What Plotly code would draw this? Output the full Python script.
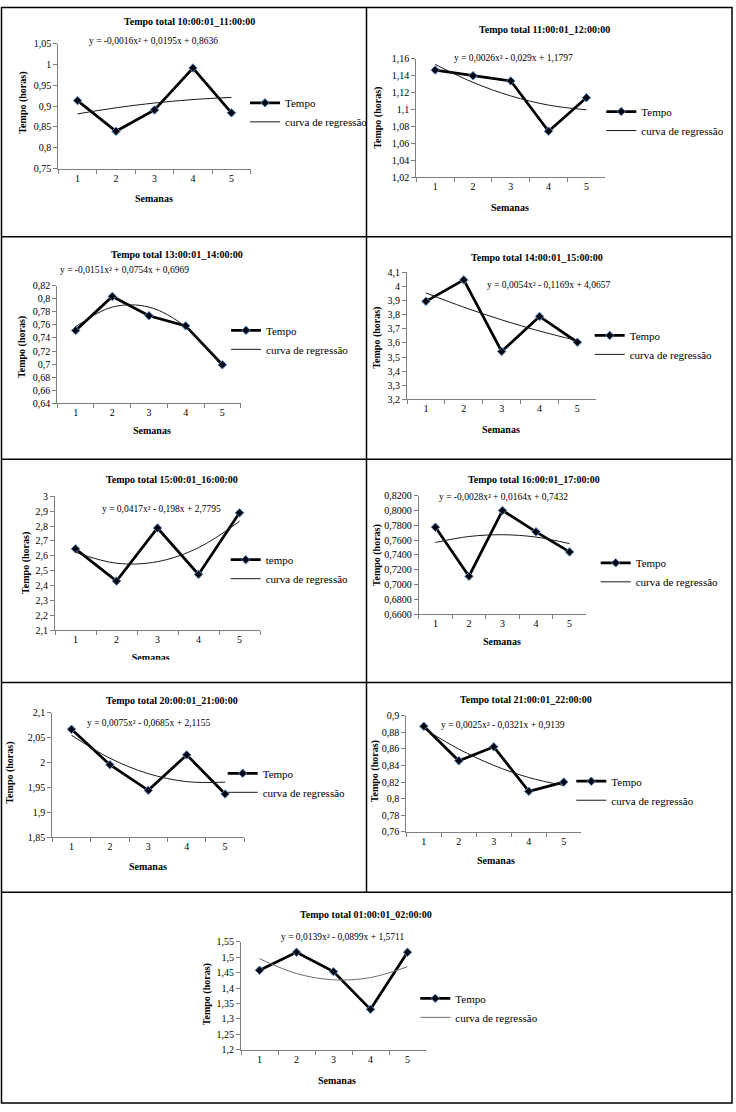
import plotly.graph_objects as go

W, H = 736, 1112


def X(px):
    return px / W


def Y(py):
    return 1 - py / H


# ---------------- data ----------------
weeks = ["1", "2", "3", "4", "5"]

titles = [
    "Tempo total 10:00:01_11:00:00",
    "Tempo total 11:00:01_12:00:00",
    "Tempo total 13:00:01_14:00:00",
    "Tempo total 14:00:01_15:00:00",
    "Tempo total 15:00:01_16:00:00",
    "Tempo total 16:00:01_17:00:00",
    "Tempo total 20:00:01_21:00:00",
    "Tempo total 21:00:01_22:00:00",
    "Tempo total 01:00:01_02:00:00",
]

equations = [
    "y = -0,0016x² + 0,0195x + 0,8636",
    "y = 0,0026x² - 0,029x + 1,1797",
    "y = -0,0151x² + 0,0754x + 0,6969",
    "y = 0,0054x² - 0,1169x + 4,0657",
    "y = 0,0417x² - 0,198x + 2,7795",
    "y = -0,0028x² + 0,0164x + 0,7432",
    "y = 0,0075x² - 0,0685x + 2,1155",
    "y = 0,0025x² - 0,0321x + 0,9139",
    "y = 0,0139x² - 0,0899x + 1,5711",
]

series_names = ["Tempo", "Tempo", "Tempo", "Tempo", "tempo", "Tempo", "Tempo", "Tempo", "Tempo"]
trend_name = "curva de regressão"

tempo_10_11 = [0.9135, 0.8397, 0.8910, 0.9920, 0.8840]
curva_10_11 = [0.8815, 0.8962, 0.9077, 0.9160, 0.9211]
tempo_11_12 = [1.1466, 1.1400, 1.1338, 1.0745, 1.1140]
curva_11_12 = [1.1533, 1.1321, 1.1161, 1.1053, 1.0997]
tempo_13_14 = [0.7514, 0.8035, 0.7740, 0.7585, 0.6990]
curva_13_14 = [0.7572, 0.7873, 0.7872, 0.7569, 0.6964]
tempo_14_15 = [3.895, 4.047, 3.540, 3.788, 3.605]
curva_14_15 = [3.9542, 3.8535, 3.7636, 3.6845, 3.6162]
tempo_15_16 = [2.647, 2.430, 2.787, 2.475, 2.889]
curva_15_16 = [2.6232, 2.5503, 2.5608, 2.6547, 2.8320]
tempo_16_17 = [0.7773, 0.7111, 0.8000, 0.7711, 0.7440]
curva_16_17 = [0.7568, 0.7648, 0.7672, 0.7640, 0.7552]
tempo_20_21 = [2.0665, 1.9954, 1.9440, 2.0152, 1.9368]
curva_20_21 = [2.0545, 2.0085, 1.9775, 1.9615, 1.9605]
tempo_21_22 = [0.8871, 0.8456, 0.8624, 0.8089, 0.8200]
curva_21_22 = [0.8843, 0.8597, 0.8401, 0.8255, 0.8159]
tempo_01_02 = [1.4575, 1.5160, 1.4532, 1.3307, 1.5160]
curva_01_02 = [1.4951, 1.4469, 1.4265, 1.4339, 1.4691]

tempo_all = [tempo_10_11, tempo_11_12, tempo_13_14, tempo_14_15, tempo_15_16,
             tempo_16_17, tempo_20_21, tempo_21_22, tempo_01_02]
curva_all = [curva_10_11, curva_11_12, curva_13_14, curva_14_15, curva_15_16,
             curva_16_17, curva_20_21, curva_21_22, curva_01_02]

ytick_vals = [
    [0.75, 0.8, 0.85, 0.9, 0.95, 1.0, 1.05],
    [1.02, 1.04, 1.06, 1.08, 1.1, 1.12, 1.14, 1.16],
    [0.64, 0.66, 0.68, 0.7, 0.72, 0.74, 0.76, 0.78, 0.8, 0.82],
    [3.2, 3.3, 3.4, 3.5, 3.6, 3.7, 3.8, 3.9, 4.0, 4.1],
    [2.1, 2.2, 2.3, 2.4, 2.5, 2.6, 2.7, 2.8, 2.9, 3.0],
    [0.66, 0.68, 0.70, 0.72, 0.74, 0.76, 0.78, 0.80, 0.82],
    [1.85, 1.9, 1.95, 2.0, 2.05, 2.1],
    [0.76, 0.78, 0.8, 0.82, 0.84, 0.86, 0.88, 0.9],
    [1.2, 1.25, 1.3, 1.35, 1.4, 1.45, 1.5, 1.55],
]
ytick_text = [
    ["0,75", "0,8", "0,85", "0,9", "0,95", "1", "1,05"],
    ["1,02", "1,04", "1,06", "1,08", "1,1", "1,12", "1,14", "1,16"],
    ["0,64", "0,66", "0,68", "0,7", "0,72", "0,74", "0,76", "0,78", "0,8", "0,82"],
    ["3,2", "3,3", "3,4", "3,5", "3,6", "3,7", "3,8", "3,9", "4", "4,1"],
    ["2,1", "2,2", "2,3", "2,4", "2,5", "2,6", "2,7", "2,8", "2,9", "3"],
    ["0,6600", "0,6800", "0,7000", "0,7200", "0,7400", "0,7600", "0,7800", "0,8000", "0,8200"],
    ["1,85", "1,9", "1,95", "2", "2,05", "2,1"],
    ["0,76", "0,78", "0,8", "0,82", "0,84", "0,86", "0,88", "0,9"],
    ["1,2", "1,25", "1,3", "1,35", "1,4", "1,45", "1,5", "1,55"],
]

# ---------------- layout geometry (pixels) ----------------
geom = [
    dict(x0=58.3, x1=250.7, yt=38.3, yb=164.3, title=(189, 16), eq=(153, 35), ytl=(22.7, 98),
         xtl=(154, 195), leg=(285, 107.5)),
    dict(x0=416.3, x1=605.3, yt=53.3, yb=173.3, title=(544.3, 24), eq=(513.5, 52.3), ytl=(378, 113),
         xtl=(510.3, 204), leg=(641.3, 116.3)),
    dict(x0=57.3, x1=240.7, yt=282.7, yb=401.7, title=(176.7, 251.7), eq=(124.8, 267.3), ytl=(22.7, 345),
         xtl=(152, 429), leg=(266, 337.5)),
    dict(x0=407, x1=596.3, yt=269.3, yb=397.7, title=(537.3, 254), eq=(549, 281.7), ytl=(377.3, 335),
         xtl=(501.3, 427.7), leg=(629.7, 342.6)),
    dict(x0=55, x1=260, yt=495.7, yb=631, title=(172, 479), eq=(161.2, 508.3), ytl=(26.7, 563.3),
         xtl=None, leg=(265.7, 569.3)),
    dict(x0=418.7, x1=586.3, yt=495, yb=614.7, title=(534.2, 478.3), eq=(503, 496.7), ytl=(377.3, 555),
         xtl=(502.3, 642.7), leg=(635.7, 572.5)),
    dict(x0=52.3, x1=244.3, yt=714.3, yb=840.3, title=(171.7, 702.3), eq=(148.8, 725), ytl=(10, 775),
         xtl=(148.3, 870), leg=(262.7, 785.3)),
    dict(x0=406.3, x1=581.3, yt=717.3, yb=835, title=(525.5, 700.7), eq=(502.5, 726.7), ytl=(375.3, 773.3),
         xtl=(495.7, 864), leg=(611.3, 793.3)),
    dict(x0=241, x1=426, yt=946, yb=1055, title=(366.2, 918.3), eq=(342.8, 941), ytl=(206.7, 999.3),
         xtl=(336.7, 1086), leg=(455.3, 1012.8)),
]

SERIF = "Liberation Serif"
AXCOL = "#7f7f7f"

fig = go.Figure()
layout = dict(
    width=W, height=H, autosize=False,
    margin=dict(l=0, r=0, t=0, b=0),
    paper_bgcolor="white", plot_bgcolor="white",
    font=dict(family=SERIF, size=10, color="black"),
    annotations=[], shapes=[],
)

for i in range(9):
    g = geom[i]
    s = "" if i == 0 else str(i + 1)
    trend_color = "#6e6e6e" if i == 8 else "#1a1a1a"
    fig.add_trace(go.Scatter(
        x=weeks, y=tempo_all[i], mode="lines+markers", name=series_names[i],
        xaxis="x" + s, yaxis="y" + s, legend="legend" + s,
        line=dict(color="black", width=2.75),
        marker=dict(symbol="diamond", size=6.5, color="#05050f",
                    line=dict(color="#4f81bd", width=1)),
        hoverinfo="skip",
    ))
    fig.add_trace(go.Scatter(
        x=weeks, y=curva_all[i], mode="lines", name=trend_name,
        xaxis="x" + s, yaxis="y" + s, legend="legend" + s,
        line=dict(color=trend_color, width=1, shape="spline"),
        hoverinfo="skip",
    ))
    layout["xaxis" + s] = dict(
        domain=[X(g["x0"]), X(g["x1"])], anchor="y" + s, type="category",
        range=[-0.5, 4.5], tickson="boundaries", ticks="outside", ticklen=4,
        tickcolor=AXCOL, showline=True, linecolor=AXCOL, linewidth=1,
        showgrid=False, zeroline=False, fixedrange=True,
        tickfont=dict(family=SERIF, size=10, color="black"),
    )
    layout["yaxis" + s] = dict(
        domain=[Y(g["yb"]), Y(g["yt"])], anchor="x" + s,
        range=[ytick_vals[i][0], ytick_vals[i][-1]],
        tickmode="array", tickvals=ytick_vals[i], ticktext=ytick_text[i],
        ticks="outside", ticklen=4, tickcolor=AXCOL, showline=True,
        linecolor=AXCOL, linewidth=1, showgrid=False, zeroline=False,
        fixedrange=True, tickfont=dict(family=SERIF, size=10, color="black"),
    )
    layout["legend" + s] = dict(
        x=X(g["leg"][0] - 40), y=Y(g["leg"][1]), xanchor="left", yanchor="middle",
        bgcolor="rgba(0,0,0,0)", borderwidth=0, traceorder="normal",
        font=dict(family=SERIF, size=11, color="black"), tracegroupgap=0,
        itemclick=False, itemdoubleclick=False,
    )
    ann = layout["annotations"]
    ann.append(dict(text="<b>" + titles[i] + "</b>", x=X(g["title"][0]), y=Y(g["title"][1]),
                    xref="paper", yref="paper", xanchor="center", yanchor="middle",
                    showarrow=False, font=dict(family=SERIF, size=10, color="black")))
    ann.append(dict(text=equations[i], x=X(g["eq"][0]), y=Y(g["eq"][1]),
                    xref="paper", yref="paper", xanchor="center", yanchor="middle",
                    showarrow=False, font=dict(family=SERIF, size=9.5, color="black")))
    ann.append(dict(text="<b>Tempo (horas)</b>", x=X(g["ytl"][0]), y=Y(g["ytl"][1]),
                    xref="paper", yref="paper", xanchor="center", yanchor="middle",
                    textangle=-90, showarrow=False,
                    font=dict(family=SERIF, size=10, color="black")))
    if g["xtl"] is not None:
        ann.append(dict(text="<b>Semanas</b>", x=X(g["xtl"][0]), y=Y(g["xtl"][1]),
                        xref="paper", yref="paper", xanchor="center", yanchor="middle",
                        showarrow=False, font=dict(family=SERIF, size=10, color="black")))

# clipped "Semanas" label of the 15:00-16:00 chart (cut by the chart area in the original)
fig.add_trace(go.Scatter(
    x=[150.7], y=[660], mode="text", text=["Semanas"], textposition="middle center",
    textfont=dict(family=SERIF, size=10, color="black", weight="bold"),
    xaxis="x10", yaxis="y10", showlegend=False, hoverinfo="skip", cliponaxis=True,
))
layout["xaxis10"] = dict(domain=[X(2), X(366)], range=[2, 366], visible=False,
                         anchor="y10", fixedrange=True)
layout["yaxis10"] = dict(domain=[Y(661), Y(640)], range=[661, 640], visible=False,
                         anchor="x10", fixedrange=True)

# frame lines
line_style = dict(color="black", width=1.5)
shapes = layout["shapes"]
shapes.append(dict(type="rect", xref="paper", yref="paper", x0=X(1.5), x1=X(732), y0=Y(1109), y1=Y(1.5),
                   line=line_style))
for yy in [233.3, 458.3, 684, 896]:
    shapes.append(dict(type="line", xref="paper", yref="paper", x0=X(1.5), x1=X(732), y0=Y(yy), y1=Y(yy),
                       line=line_style))
shapes.append(dict(type="line", xref="paper", yref="paper", x0=X(366.5), x1=X(366.5), y0=Y(896), y1=Y(1.5),
                   line=line_style))

fig.update_layout(**layout)

page_fix = (
    "document.documentElement.style.margin='0px';"
    "document.documentElement.style.padding='0px';"
    "document.documentElement.style.overflow='hidden';"
    "document.body.style.margin='0px';"
    "document.body.style.padding='0px';"
    "document.body.style.overflow='hidden';"
    "document.body.style.height='1112px';"
    "var gd=document.getElementById('{plot_id}');"
    "gd.style.position='absolute';gd.style.left='0px';gd.style.top='0px';"
)
fig.write_html(
    "out.html",
    config={"displayModeBar": False, "responsive": False},
    post_script=page_fix,
)
